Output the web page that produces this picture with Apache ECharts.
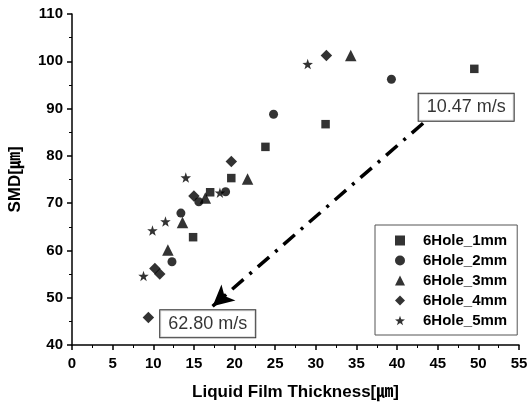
<!DOCTYPE html>
<html><head><meta charset="utf-8">
<script src="https://cdn.jsdelivr.net/npm/echarts@6/dist/echarts.min.js"></script>
<style>html,body{margin:0;padding:0;background:#fff}#c{width:529px;height:406px}</style>
</head><body><div id="c"></div>
<script>
var seriesNames = ['6Hole_1mm','6Hole_2mm','6Hole_3mm','6Hole_4mm','6Hole_5mm'];
var hole1mm = [[14.9,62.8],[17.0,72.3],[19.6,75.3],[23.8,81.9],[31.2,86.7],[49.5,98.4]];
var hole2mm = [[12.3,57.6],[13.4,67.9],[15.6,70.3],[18.9,72.4],[24.8,88.8],[39.3,96.2]];
var hole3mm = [[11.8,60.1],[13.6,65.9],[16.4,71.1],[21.6,75.1],[34.3,101.2]];
var hole4mm = [[9.4,45.8],[10.2,56.2],[10.8,55.0],[15.0,71.5],[19.6,78.8],[31.3,101.2]];
var hole5mm = [[8.8,54.6],[9.9,64.2],[11.5,66.1],[14.0,75.4],[18.2,72.2],[29.0,99.4]];
var arrowStart = [43.2, 86.9];
var arrowEnd = [17.3, 48.2];
var labelHigh = {text:'10.47 m/s', at:[48.5, 90.3]};
var labelLow = {text:'62.80 m/s', at:[16.7, 44.5]};
var xTicks = {min:0, max:55, interval:5};
var yTicks = {min:40, max:110, interval:10};

var star = 'path://M50,0L61.76,33.82L97.55,34.55L69.02,56.18L79.39,90.45L50,70L20.61,90.45L30.98,56.18L2.45,34.55L38.24,33.82Z';
var symbols = ['rect','circle','triangle','diamond',star];
var sizes = [8.5,9,11.5,11.5,10.5];
var datas = [hole1mm,hole2mm,hole3mm,hole4mm,hole5mm];

var chart = echarts.init(document.getElementById('c'), null, {renderer:'canvas'});
var series = datas.map(function(d,i){
  return {name:seriesNames[i], type:'scatter', data:d, symbol:symbols[i], symbolSize:sizes[i],
    itemStyle:{color:'#000'}, z:3};
});
var boxLabel = {show:true, position:'inside', color:'#000', fontFamily:'Liberation Sans, Arial, sans-serif',
  fontSize:18, backgroundColor:'#fff', borderColor:'#000', borderWidth:1, padding:[5,8,4,8]};
series.push({name:'arrow', type:'scatter', data:[], symbolSize:0, silent:true,
  markLine:{silent:true, symbol:['none','arrow'], symbolSize:[16,21], precision:2,
    lineStyle:{color:'#000', width:3.5, type:[15,8,3,8], cap:'butt'},
    label:{show:false},
    data:[[{coord:arrowStart},{coord:arrowEnd}]]}});
series.push({name:'labels', type:'scatter', symbolSize:0, silent:true, z:5,
  data:[{value:labelHigh.at, label:Object.assign({formatter:labelHigh.text}, boxLabel)},
        {value:labelLow.at, label:Object.assign({formatter:labelLow.text}, boxLabel)}]});

var axisFont = {color:'#000', fontWeight:'bold', fontSize:15, fontFamily:'Liberation Sans, Arial, sans-serif'};
var nameFont = {color:'#000', fontWeight:'bold', fontSize:17, fontFamily:'Liberation Sans, Noto Sans CJK KR, Arial, sans-serif'};
chart.setOption({
  animation:false,
  grid:{left:72, right:10, top:14, bottom:61, outerBoundsMode:'none', containLabel:false},
  legend:{data:seriesNames.map(function(n,i){return {name:n, icon:symbols[i]};}),
    orient:'vertical', left:375, top:225, itemWidth:10, itemHeight:10, itemGap:3,
    padding:[7,10,6,20], borderColor:'#555', borderWidth:1, backgroundColor:'#fff',
    textStyle:{color:'#000', fontWeight:'bold', fontSize:15, lineHeight:17, padding:[0,0,0,13], fontFamily:'Liberation Sans, Arial, sans-serif'},
    itemStyle:{color:'#000'}},
  xAxis:{type:'value', min:xTicks.min, max:xTicks.max, interval:xTicks.interval,
    name:'Liquid Film Thickness[㎛]', nameLocation:'middle', nameGap:39,
    nameTextStyle:nameFont,
    axisLine:{show:true, onZero:false, lineStyle:{color:'#000', width:1.5}},
    axisTick:{show:true, length:5, lineStyle:{color:'#000', width:1.5}},
    minorTick:{show:true, splitNumber:2, length:3, lineStyle:{color:'#000'}},
    splitLine:{show:false}, axisLabel:Object.assign({margin:11}, axisFont)},
  yAxis:{type:'value', min:yTicks.min, max:yTicks.max, interval:yTicks.interval,
    name:'SMD[㎛]', nameLocation:'middle', nameGap:48, nameRotate:90,
    nameTextStyle:nameFont,
    axisLine:{show:true, onZero:false, lineStyle:{color:'#000', width:1.5}},
    axisTick:{show:true, length:5, lineStyle:{color:'#000', width:1.5}},
    minorTick:{show:true, splitNumber:2, length:3, lineStyle:{color:'#000'}},
    splitLine:{show:false}, axisLabel:Object.assign({margin:9}, axisFont)},
  series:series
});
</script></body></html>
